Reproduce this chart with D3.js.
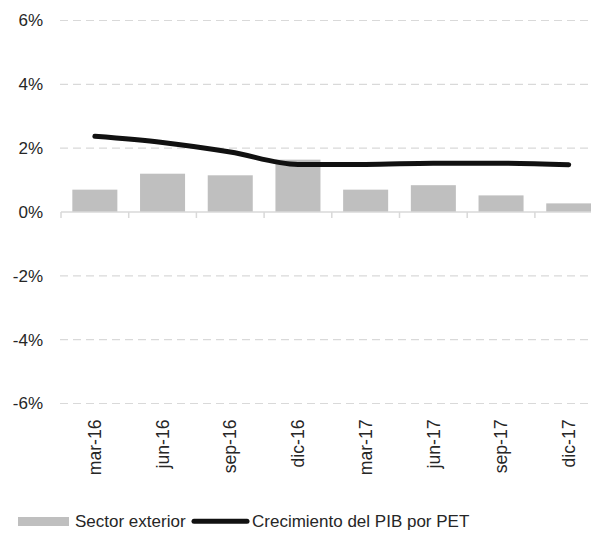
<!DOCTYPE html>
<html>
<head>
<meta charset="utf-8">
<script src="https://cdn.jsdelivr.net/npm/d3@7/dist/d3.min.js"></script>
<style>
  html, body { margin: 0; padding: 0; background: #fff; }
  svg { display: block; }
  text { font-family: "Liberation Sans", Arial, sans-serif; }
</style>
</head>
<body>
<svg id="chart" width="591" height="533"></svg>
<script>
// Quarterly categories
const categories = ["mar-16", "jun-16", "sep-16", "dic-16", "mar-17", "jun-17", "sep-17", "dic-17"];
// Bar series: Sector exterior (%)
const sectorExterior = [0.70, 1.20, 1.15, 1.64, 0.70, 0.84, 0.52, 0.27];
// Line series: Crecimiento del PIB por PET (%)
const crecimientoPIB = [2.37, 2.18, 1.88, 1.49, 1.49, 1.53, 1.53, 1.48];
// Y axis ticks (%)
const yTicks = [-6, -4, -2, 0, 2, 4, 6];
const seriesNames = ["Sector exterior", "Crecimiento del PIB por PET"];

const svg = d3.select("#chart");
const textColor = "#262626";
const gridColor = "#d9d9d9";

const x = d3.scaleBand().domain(categories).range([61, 602.6]).paddingInner(0.335).paddingOuter(0.1675);
const xEdge = d3.scaleBand().domain(categories).range([61, 602.6]).padding(0);
const y = d3.scaleLinear().domain([-6, 6]).range([403.5, 20.5]);

// Dashed gridlines
svg.append("g").selectAll("line")
  .data(yTicks.filter(d => d !== 0))
  .join("line")
  .attr("x1", 60).attr("x2", 591)
  .attr("y1", d => y(d)).attr("y2", d => y(d))
  .attr("stroke", gridColor).attr("stroke-width", 1.2)
  .attr("stroke-dasharray", "8,5");

// Y axis labels
const yAxis = d3.axisLeft(y).tickValues(yTicks).tickFormat(d => d + "%").tickSize(0).tickPadding(0);
const gy = svg.append("g").attr("transform", "translate(43,0)").call(yAxis);
gy.select(".domain").remove();
gy.selectAll("text").attr("font-size", 17).attr("fill", textColor)
  .attr("font-family", "Liberation Sans, Arial, sans-serif");

// Bars
svg.append("g").selectAll("rect")
  .data(categories)
  .join("rect")
  .attr("x", (d) => x(d))
  .attr("width", x.bandwidth())
  .attr("y", (d, i) => y(Math.max(0, sectorExterior[i])))
  .attr("height", (d, i) => Math.abs(y(sectorExterior[i]) - y(0)))
  .attr("fill", "#bfbfbf");

// Category axis at zero with tick marks on band edges
const gx = svg.append("g");
gx.append("line")
  .attr("x1", 61).attr("x2", 602.6)
  .attr("y1", y(0)).attr("y2", y(0))
  .attr("stroke", gridColor).attr("stroke-width", 1.5);
gx.selectAll("line.tick")
  .data(categories)
  .join("line")
  .attr("class", "tick")
  .attr("x1", d => xEdge(d)).attr("x2", d => xEdge(d))
  .attr("y1", y(0)).attr("y2", y(0) + 6)
  .attr("stroke", gridColor).attr("stroke-width", 1.5);

// Rotated category labels
svg.append("g").selectAll("text")
  .data(categories)
  .join("text")
  .attr("transform", d => `translate(${xEdge(d) + xEdge.bandwidth() / 2},419.5) rotate(-90)`)
  .attr("text-anchor", "end")
  .attr("dy", "0.35em")
  .attr("font-size", 17.6)
  .attr("fill", textColor)
  .text(d => d);

// Growth line
const line = d3.line()
  .x((d, i) => xEdge(categories[i]) + xEdge.bandwidth() / 2)
  .y(d => y(d))
  .curve(d3.curveMonotoneX);
svg.append("path")
  .datum(crecimientoPIB)
  .attr("d", line)
  .attr("fill", "none")
  .attr("stroke", "#111")
  .attr("stroke-width", 5)
  .attr("stroke-linecap", "round")
  .attr("stroke-linejoin", "round");

// Legend
const lg = svg.append("g");
lg.append("rect").attr("x", 18).attr("y", 517).attr("width", 51).attr("height", 9).attr("fill", "#bfbfbf");
lg.append("text").attr("x", 75).attr("y", 521.5).attr("dy", "0.35em")
  .attr("font-size", 17).attr("fill", textColor).text(seriesNames[0]);
lg.append("line").attr("x1", 194).attr("x2", 247).attr("y1", 521.3).attr("y2", 521.3)
  .attr("stroke", "#111").attr("stroke-width", 5).attr("stroke-linecap", "round");
lg.append("text").attr("x", 252).attr("y", 521.5).attr("dy", "0.35em")
  .attr("font-size", 17).attr("fill", textColor).text(seriesNames[1]);
</script>
</body>
</html>
